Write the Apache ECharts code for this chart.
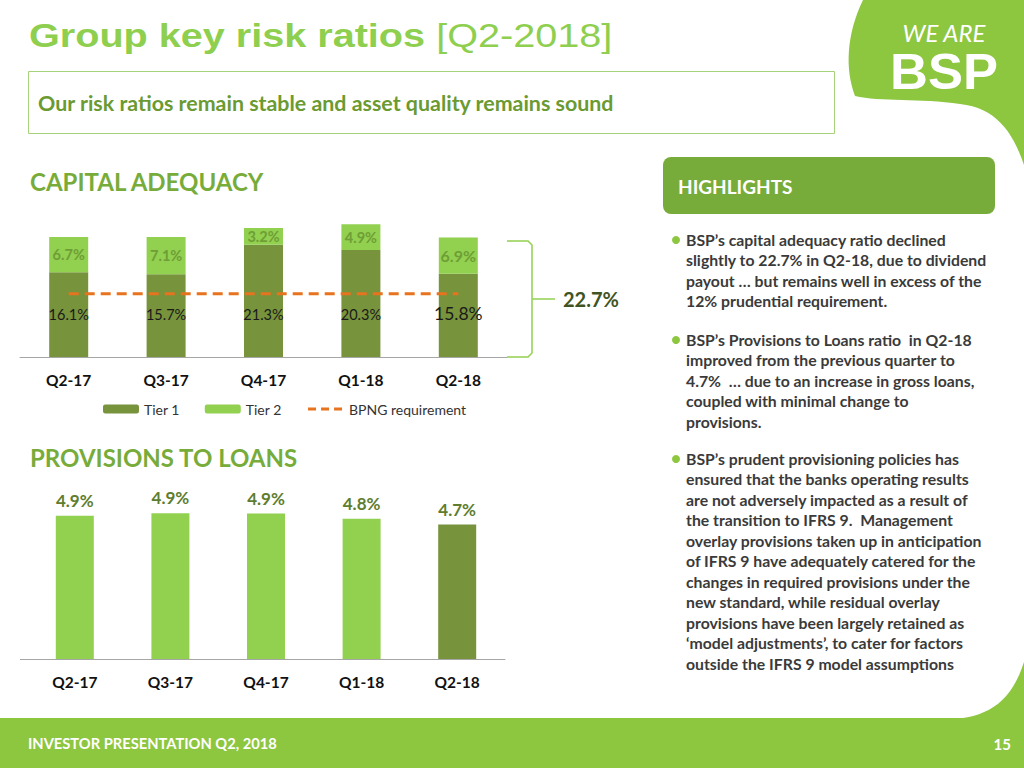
<!DOCTYPE html>
<html>
<head>
<meta charset="utf-8">
<script src="https://cdn.jsdelivr.net/npm/echarts@6/dist/echarts.min.js"></script>
<style>
html,body{margin:0;padding:0;background:#fff;}
#main{width:1024px;height:768px;}
</style>
</head>
<body>
<div id="main"></div>
<script>
// ---- data ----
var categories = ['Q2-17', 'Q3-17', 'Q4-17', 'Q1-18', 'Q2-18'];
var tier1 = [16.1, 15.7, 21.3, 20.3, 15.8];
var tier2 = [6.7, 7.1, 3.2, 4.9, 6.9];
var bpngRequirement = [12, 12, 12, 12, 12];
var provisionsToLoans = [4.88, 4.94, 4.93, 4.81, 4.68];

var FONT = 'Lato, "Open Sans", sans-serif';
var DARK = '#77933C', LIGHT = '#92D050', ORANGE = '#E8731E';
var last = categories.length - 1;
var totalLast = (tier1[last] + tier2[last]).toFixed(1) + '%';

var chart = echarts.init(document.getElementById('main'), null, {renderer: 'svg'});

// sample a chain of cubic bezier segments into polygon points (decorative shapes)
function bezierPoints(start, segs) {
  var pts = [start.slice()];
  var p0 = start;
  segs.forEach(function (s) {
    if (s.length === 2) { pts.push(s); p0 = s; return; }
    var c1 = s[0], c2 = s[1], p3 = s[2];
    for (var k = 1; k <= 16; k++) {
      var t = k / 16, u = 1 - t;
      pts.push([
        u*u*u*p0[0] + 3*u*u*t*c1[0] + 3*u*t*t*c2[0] + t*t*t*p3[0],
        u*u*u*p0[1] + 3*u*u*t*c1[1] + 3*u*t*t*c2[1] + t*t*t*p3[1]
      ]);
    }
    p0 = p3;
  });
  return pts;
}

var logoPts = bezierPoints([863, 0], [
  [1024, 0], [1024, 165],
  [[1012, 130], [995, 108], [960, 104]],
  [[920, 98], [880, 102], [855, 96]],
  [[845, 70], [846, 35], [863, 0]]
]);
var footerCorner = bezierPoints([955, 719], [
  [[990, 716], [1012, 700], [1024, 662]],
  [1024, 719]
]);

var bullets = [
  {y: 240, text: 'BSP\u2019s capital adequacy ratio declined\nslightly to 22.7% in Q2-18, due to dividend\npayout \u2026 but remains well in excess of the\n12% prudential requirement.'},
  {y: 340, text: 'BSP\u2019s Provisions to Loans ratio  in Q2-18\nimproved from the previous quarter to\n4.7%  \u2026 due to an increase in gross loans,\ncoupled with minimal change to\nprovisions.'},
  {y: 459, text: 'BSP\u2019s prudent provisioning policies has\nensured that the banks operating results\nare not adversely impacted as a result of\nthe transition to IFRS 9.  Management\noverlay provisions taken up in anticipation\nof IFRS 9 have adequately catered for the\nchanges in required provisions under the\nnew standard, while residual overlay\nprovisions have been largely retained as\n\u2018model adjustments\u2019, to cater for factors\noutside the IFRS 9 model assumptions'}
];

var graphics = [
  // title
  {type: 'text', x: 29, y: 36, scaleX: 1.2, style: {
    text: '{b|Group key risk ratios} {n|[Q2-2018]}', verticalAlign: 'middle',
    font: '33px "Liberation Sans", Arial, sans-serif', fill: '#8FCF4F',
    rich: {b: {fontWeight: 'bold', fontSize: 33, fontFamily: '"Liberation Sans", Arial', fill: '#8FCF4F'},
           n: {fontWeight: 'normal', fontSize: 33, fontFamily: '"Liberation Sans", Arial', fill: '#8FCF4F'}}
  }},
  // subtitle box
  {type: 'rect', shape: {x: 28.5, y: 71.5, width: 806, height: 62}, style: {fill: 'none', stroke: '#A5D27A', lineWidth: 1}},
  {type: 'text', x: 38, y: 103, scaleX: 1.07, style: {text: 'Our risk ratios remain stable and asset quality remains sound',
    font: 'bold 20px ' + FONT, fill: '#6B9A31', verticalAlign: 'middle'}},
  // section titles
  {type: 'text', x: 30, y: 181, style: {text: 'CAPITAL ADEQUACY', font: 'bold 24px ' + FONT, fill: '#78AC3A', verticalAlign: 'middle'}},
  {type: 'text', x: 30, y: 457, style: {text: 'PROVISIONS TO LOANS', font: 'bold 24px ' + FONT, fill: '#78AC3A', verticalAlign: 'middle'}},
  // logo
  {type: 'polygon', shape: {points: logoPts}, style: {fill: '#8DC63F'}},
  {type: 'text', x: 944, y: 32, style: {text: 'WE ARE', font: 'italic 24px ' + FONT, fill: '#fff', align: 'center', verticalAlign: 'middle'}},
  {type: 'text', x: 944, y: 72, scaleX: 1.05, style: {text: 'BSP', font: 'bold 50px "Liberation Sans", Arial, sans-serif', fill: '#fff', align: 'center', verticalAlign: 'middle'}},
  // highlights header
  {type: 'rect', shape: {x: 663, y: 157, width: 332, height: 57, r: 8}, style: {fill: '#78AC3A'}},
  {type: 'text', x: 678, y: 186, style: {text: 'HIGHLIGHTS', font: 'bold 19px ' + FONT, fill: '#fff', verticalAlign: 'middle'}},
  // brace around capital bar
  {type: 'polyline', shape: {points: [[507, 241], [528, 241], [532, 245], [532, 353], [528, 357], [507, 357]]},
    style: {fill: 'none', stroke: '#92D050', lineWidth: 1.5}},
  {type: 'line', shape: {x1: 532, y1: 299, x2: 555, y2: 299}, style: {stroke: '#92D050', lineWidth: 1.5}},
  {type: 'text', x: 563, y: 299, style: {text: totalLast, font: 'bold 20px ' + FONT, fill: '#3F5424', verticalAlign: 'middle'}},
  // footer
  {type: 'rect', shape: {x: 0, y: 718, width: 1024, height: 50}, style: {fill: '#8DC63F'}},
  {type: 'polygon', shape: {points: footerCorner}, style: {fill: '#8DC63F'}},
  {type: 'text', x: 28, y: 743, style: {text: 'INVESTOR PRESENTATION Q2, 2018', font: 'bold 14.7px ' + FONT, fill: '#fff', verticalAlign: 'middle'}},
  {type: 'text', x: 1011, y: 744, style: {text: '15', font: 'bold 15px ' + FONT, fill: '#fff', align: 'right', verticalAlign: 'middle'}},
  // short extension of the provisions baseline to the left edge
  {type: 'line', shape: {x1: 20, y1: 659.5, x2: 27, y2: 659.5}, style: {stroke: '#A6A6A6', lineWidth: 1}}
];

bullets.forEach(function (b) {
  graphics.push({type: 'circle', shape: {cx: 676, cy: b.y, r: 4}, style: {fill: '#8DC63F'}});
  graphics.push({type: 'text', x: 686, y: b.y - 10.25, scaleX: 1.02, style: {text: b.text, font: 'bold 15.5px ' + FONT,
    fill: '#3A3A3A', lineHeight: 20.5, verticalAlign: 'top'}});
});

var tier1Data = tier1.map(function (v, i) {
  return i === last ? {value: v, label: {fontSize: 17.5}} : v;
});
var tier2Data = tier2.map(function (v, i) {
  return i === last ? {value: v, label: {fontSize: 16}} : v;
});
var provData = provisionsToLoans.map(function (v, i) {
  return {value: v, itemStyle: {color: i === last ? DARK : LIGHT}};
});

var axisLabelStyle = {fontFamily: FONT, fontWeight: 'bold', fontSize: 15.5, color: '#111', margin: 15};

chart.setOption({
  animation: false,
  textStyle: {fontFamily: FONT},
  grid: [
    {left: 20, right: 517, top: 199, bottom: 411},
    {left: 27, right: 519, top: 480, bottom: 109}
  ],
  xAxis: [
    {gridIndex: 0, type: 'category', data: categories, axisTick: {show: false},
     axisLine: {lineStyle: {color: '#A6A6A6'}}, axisLabel: axisLabelStyle},
    {gridIndex: 1, type: 'category', data: categories, axisTick: {show: false},
     axisLine: {lineStyle: {color: '#A6A6A6'}}, axisLabel: axisLabelStyle}
  ],
  yAxis: [
    {gridIndex: 0, type: 'value', min: 0, max: 30, show: false},
    {gridIndex: 1, type: 'value', min: 1.6, max: 5.7, show: false}
  ],
  legend: {
    data: ['Tier 1', 'Tier 2', {name: 'BPNG requirement', itemStyle: {opacity: 0},
                                lineStyle: {type: [8, 5], width: 3, color: ORANGE}}],
    left: 98, top: 397, itemWidth: 36, itemHeight: 9, itemGap: 25,
    textStyle: {fontFamily: FONT, fontSize: 14, color: '#333'}
  },
  series: [
    {name: 'Tier 1', type: 'bar', stack: 'cap', xAxisIndex: 0, yAxisIndex: 0, barWidth: 39,
     data: tier1Data, itemStyle: {color: DARK},
     label: {show: true, position: 'insideBottom', distance: 35, color: '#1A1A1A', fontSize: 14.5,
             fontFamily: FONT, formatter: function (p) { return p.value.toFixed(1) + '%'; }}},
    {name: 'Tier 2', type: 'bar', stack: 'cap', xAxisIndex: 0, yAxisIndex: 0, barWidth: 39,
     data: tier2Data, itemStyle: {color: LIGHT},
     label: {show: true, position: 'inside', color: '#6E9E35', fontSize: 14.5, fontWeight: 'bold',
             fontFamily: FONT, formatter: function (p) { return p.value.toFixed(1) + '%'; }}},
    {name: 'BPNG requirement', type: 'line', xAxisIndex: 0, yAxisIndex: 0, data: bpngRequirement,
     symbol: 'none', z: 5, lineStyle: {color: ORANGE, width: 3, type: [10, 6]}, itemStyle: {color: ORANGE}},
    {name: 'Provisions to loans', type: 'bar', xAxisIndex: 1, yAxisIndex: 1, barWidth: 38, data: provData,
     label: {show: true, position: 'top', distance: 7, color: '#5E7D2E', fontSize: 17, fontWeight: 'bold',
             fontFamily: FONT, formatter: function (p) { return p.value.toFixed(1) + '%'; }}}
  ],
  graphic: graphics
});
</script>
</body>
</html>
